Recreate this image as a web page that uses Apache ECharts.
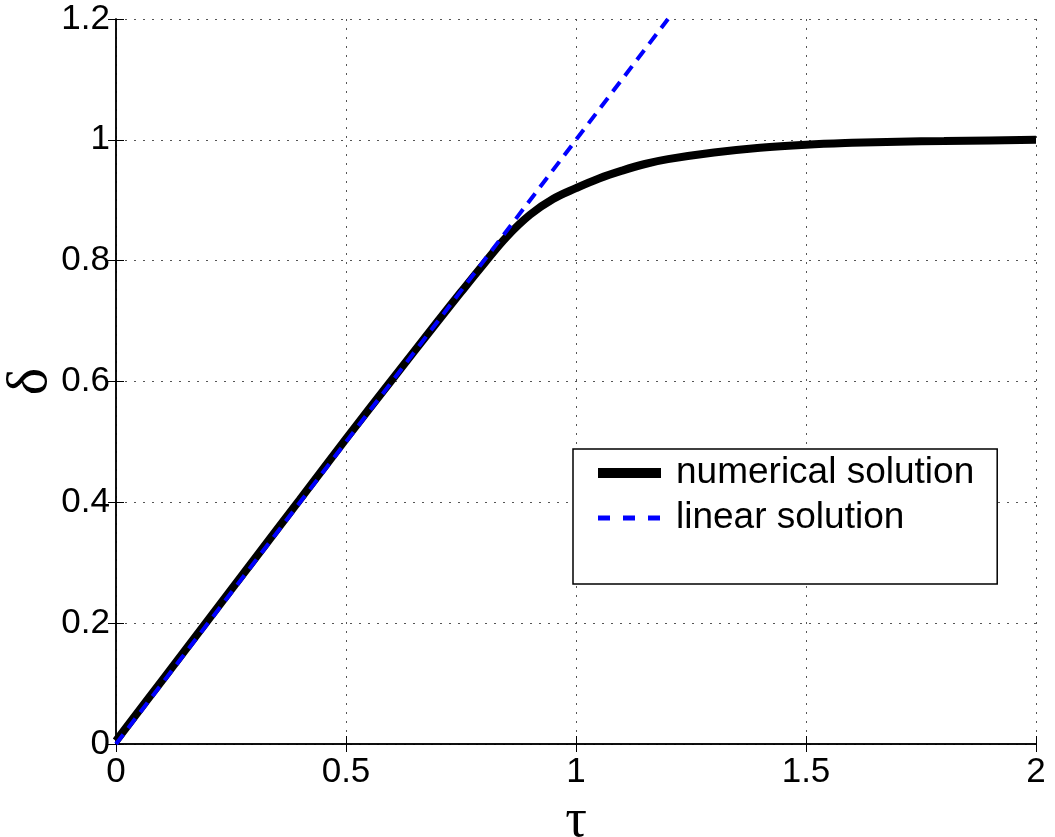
<!DOCTYPE html>
<html>
<head>
<meta charset="utf-8">
<script src="https://cdn.jsdelivr.net/npm/echarts@6/dist/echarts.min.js"></script>
<style>
  html, body { margin: 0; padding: 0; background: #fff; }
  #chart { width: 1055px; height: 837px; }
</style>
</head>
<body>
<div id="chart"></div>
<script>
// numerical solution
const tauNum = [0, 0.1, 0.2, 0.3, 0.4, 0.5, 0.6, 0.7, 0.75, 0.8, 0.85, 0.9, 0.95, 1.0, 1.05, 1.1, 1.15, 1.2, 1.3, 1.4, 1.5, 1.6, 1.7, 1.8, 1.9, 2.0];
const deltaNum = [0.005, 0.105, 0.205, 0.305, 0.405, 0.505, 0.603, 0.7, 0.748, 0.795, 0.84, 0.876, 0.902, 0.92, 0.936, 0.949, 0.96, 0.968, 0.979, 0.987, 0.992, 0.995, 0.997, 0.998, 0.999, 1.0];
// linear solution delta = tau
const tauLin = [0, 1.2];
const deltaLin = [0, 1.2];

const seriesNames = ['numerical solution', 'linear solution'];

const chart = echarts.init(document.getElementById('chart'), null, {renderer: 'canvas'});

const axisFont = 'Liberation Sans, Arial, sans-serif';
const gridDots = {show: true, lineStyle: {color: '#555', type: [2, 7], width: 1}};
const tickIn = {show: true, inside: true, length: 8, lineStyle: {color: '#000'}};
const axisLine = {show: true, lineStyle: {color: '#000', width: 1.5}};

let option = {
    animation: false,
    backgroundColor: '#fff',
    grid: {left: 116, top: 19, right: 19, bottom: 93, containLabel: false, outerBoundsMode: 'none'},
    legend: {
        data: [
            {name: seriesNames[0], lineStyle: {width: 10}},
            {name: seriesNames[1], lineStyle: {width: 5, type: [12, 13]}}
        ],
        orient: 'vertical',
        left: 573,
        top: 449,
        width: 423,
        padding: [4, 23, 46, 20],
        itemGap: 5,
        itemWidth: 63,
        itemHeight: 16,
        borderColor: '#000',
        borderWidth: 1.5,
        backgroundColor: '#fff',
        itemStyle: {opacity: 0},
        textStyle: {fontFamily: axisFont, fontSize: 37, color: '#000', lineHeight: 40, padding: [0, 0, 0, 10]}
    },
    xAxis: [
        {
            type: 'value', min: 0, max: 2, interval: 0.5,
            axisLine: axisLine, axisTick: tickIn, splitLine: gridDots,
            axisLabel: {fontFamily: axisFont, fontSize: 35, color: '#000', margin: 11},
            name: 'τ', nameLocation: 'middle', nameGap: 44,
            nameTextStyle: {fontFamily: 'Liberation Serif, serif', fontSize: 54, color: '#000'}
        },
        {
            type: 'value', position: 'top', min: 0, max: 2, interval: 0.5,
            axisLine: axisLine, axisTick: tickIn, splitLine: {show: false}, axisLabel: {show: false}
        }
    ],
    yAxis: [
        {
            type: 'value', min: 0, max: 1.2, interval: 0.2,
            axisLine: axisLine, axisTick: tickIn, splitLine: gridDots,
            axisLabel: {fontFamily: axisFont, fontSize: 35, color: '#000', margin: 6},
            name: 'δ', nameLocation: 'middle', nameGap: 56, nameRotate: 90,
            nameMoveOverlap: false,
            nameTextStyle: {fontFamily: 'Liberation Serif, serif', fontSize: 58, color: '#000'}
        },
        {
            type: 'value', position: 'right', min: 0, max: 1.2, interval: 0.2,
            axisLine: axisLine, axisTick: tickIn, splitLine: {show: false}, axisLabel: {show: false}
        }
    ],
    series: [
        {
            name: seriesNames[0],
            type: 'line',
            symbol: 'none',
            smooth: 0.4,
            data: tauNum.map((t, i) => [t, deltaNum[i]]),
            lineStyle: {color: '#000', width: 8},
            itemStyle: {color: '#000'}
        },
        {
            name: seriesNames[1],
            type: 'line',
            symbol: 'none',
            data: tauLin.map((t, i) => [t, deltaLin[i]]),
            lineStyle: {color: '#0000ff', width: 4, type: [12, 8]},
            itemStyle: {color: '#0000ff'}
        }
    ]
};

chart.setOption(option);
</script>
</body>
</html>
